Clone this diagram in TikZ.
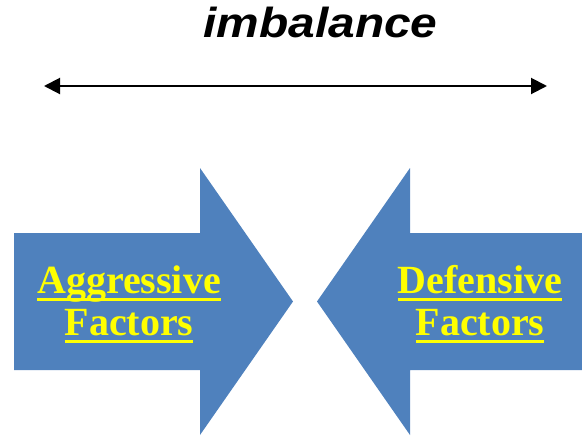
\documentclass[tikz,border=0pt]{standalone}
\usepackage{fontspec}
\usepackage{tikz}
\usetikzlibrary{arrows.meta, positioning}
\newfontfamily\titlefont[FakeStretch=1.14]{Liberation Sans}
\newfontfamily\factorfont{Liberation Serif}
\definecolor{arrowblue}{HTML}{4F81BD}
\definecolor{labelyellow}{HTML}{FFFF00}
% thick underline as in the slide
\newcommand{\ulbar}[1]{\setbox0\hbox{#1}\rlap{\rule[-7.7pt]{\wd0}{2.7pt}}\box0}

\begin{document}
\begin{tikzpicture}[x=1pt, y=-1pt,
        title/.style={font=\titlefont\fontsize{42}{44}\selectfont\bfseries\itshape, inner sep=0pt, anchor=base},
        factor/.style={font=\factorfont\fontsize{40}{42}\selectfont\bfseries, text=labelyellow, inner sep=0pt, anchor=base},
        bigarrow/.style={fill=arrowblue, draw=none},
        line/.style={draw, {Triangle[length=16pt,width=16pt]}-{Triangle[length=16pt,width=16pt]}, line width=2pt}]
        \useasboundingbox (0,0) rectangle (582,437);

        % Arrows - the two opposing blocks
        \path [bigarrow] (14,233) -- (200,233) -- (200,168) -- (293,301.5) -- (200,435) -- (200,370) -- (14,370) -- cycle;
        \path [bigarrow] (582,233) -- (410,233) -- (410,168) -- (317,301.5) -- (410,435) -- (410,370) -- (582,370) -- cycle;

        % Title and range
        \node [title] (imbalance) at (320.5,37) {imbalance};
        \coordinate (rangeleft) at (44,86);
        \coordinate (rangeright) at (547,86);
        \path [line] (rangeleft) -- (rangeright);

        % Labels
        \node [factor] (aggressive) at (129,293) {\ulbar{Aggressive}};
        \node [factor] (aggfactors) at (129,335) {\ulbar{Factors}};
        \node [factor] (defensive) at (480,293) {\ulbar{Defensive}};
        \node [factor] (deffactors) at (480,335) {\ulbar{Factors}};
\end{tikzpicture}
\end{document}
